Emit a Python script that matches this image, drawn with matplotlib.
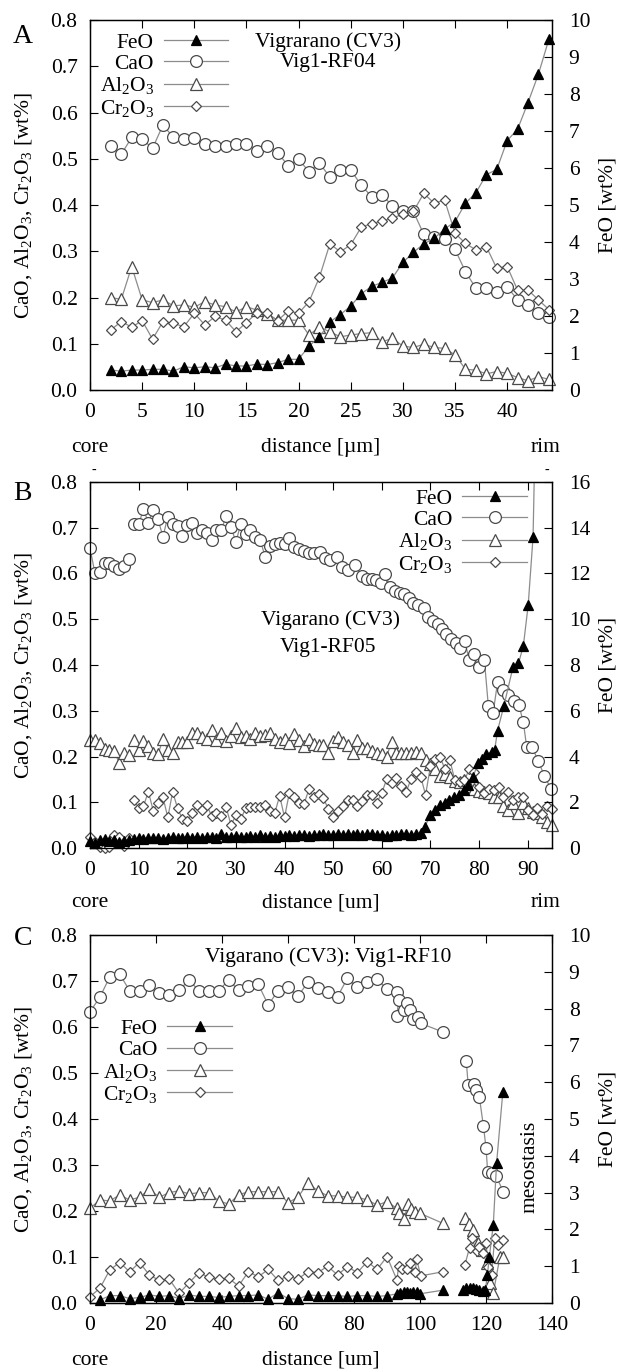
import numpy as np
import matplotlib
matplotlib.use('Agg')
import matplotlib.pyplot as plt
from matplotlib.ticker import MultipleLocator, FormatStrFormatter
from matplotlib.lines import Line2D

plt.rcParams['font.family'] = ['Liberation Serif', 'DejaVu Serif']
plt.rcParams['mathtext.fontset'] = 'custom'
plt.rcParams['mathtext.rm'] = 'Liberation Serif'
plt.rcParams['mathtext.it'] = 'Liberation Serif:italic'
plt.rcParams['font.size'] = 15.5

nan = np.nan

# ---- panel A : Vig1-RF04
dist_a = list(range(2, 45))
feo_a = [0.54, 0.51, 0.54, 0.54, 0.56, 0.56, 0.51, 0.63, 0.60, 0.63, 0.60, 0.70, 0.65, 0.65,
         0.70, 0.69, 0.74, 0.83, 0.83, 1.19, 1.43, 1.84, 2.04, 2.27, 2.60, 2.80, 2.91, 3.03,
         3.45, 3.72, 3.95, 4.10, 4.35, 4.55, 5.05, 5.33, 5.82, 5.96, 6.74, 7.05, 7.77, 8.54, 9.48]
cao_a = [0.528, 0.510, 0.546, 0.542, 0.523, 0.573, 0.546, 0.542, 0.544, 0.533, 0.528, 0.528,
         0.533, 0.533, 0.517, 0.528, 0.513, 0.485, 0.499, 0.472, 0.490, 0.461, 0.476, 0.476,
         0.443, 0.418, 0.422, 0.398, 0.386, 0.386, 0.337, 0.331, 0.326, 0.304, 0.256, 0.220,
         0.220, 0.213, 0.223, 0.195, 0.184, 0.167, 0.158]
al_a = [0.200, 0.196, 0.267, 0.195, 0.189, 0.195, 0.182, 0.184, 0.179, 0.191, 0.184, 0.180,
        0.169, 0.180, 0.173, 0.164, 0.151, 0.151, 0.151, 0.119, 0.136, 0.126, 0.115, 0.119,
        0.122, 0.124, 0.104, 0.112, 0.095, 0.092, 0.099, 0.092, 0.090, 0.076, 0.045, 0.043,
        0.035, 0.040, 0.036, 0.027, 0.020, 0.029, 0.023]
cr_a = [0.130, 0.148, 0.136, 0.150, 0.110, 0.148, 0.144, 0.137, 0.166, 0.141, 0.159, 0.151,
        0.126, 0.146, 0.167, 0.166, 0.150, 0.171, 0.166, 0.191, 0.244, 0.316, 0.299, 0.314,
        0.352, 0.360, 0.365, 0.372, 0.380, 0.386, 0.425, 0.404, 0.411, 0.339, 0.317, 0.303,
        0.310, 0.263, 0.267, 0.216, 0.216, 0.195, 0.174]

# ---- panel B : Vig1-RF05 (nan = break in the profile)
cao_b_x = list(range(0, 9)) + [nan] + list(range(9, 47)) + [
    47.3, 48.3, 49.4, 50.7, 51.9, 53.1, 54.5, 55.9, 56.9, 57.9, 58.9, 59.8, 60.7, 61.7, 62.7,
    63.8, 64.6, 65.6, 66.5, 67.5, 68.6, 69.6, 70.6, 71.6, 72.3, 73.3, 74.2, 75.2, 76.1, 77.1,
    77.9, 79.0, 79.9, 81.1, 81.9, 82.9, 83.8, 85.0, 86.0, 87.2, 88.2, 89.1, 89.8, 90.9, 92.2,
    93.4, 94.8]
cao_b = [0.655, 0.602, 0.604, 0.622, 0.624, 0.616, 0.609, 0.616, 0.631, nan,
         0.708, 0.708, 0.740, 0.711, 0.739, 0.718, 0.680, 0.724, 0.709, 0.704,
         0.682, 0.706, 0.711, 0.689, 0.696, 0.689, 0.673, 0.695, 0.695, 0.726,
         0.701, 0.669, 0.708, 0.686, 0.696, 0.679, 0.673, 0.637, 0.660, 0.664,
         0.667, 0.664, 0.677, 0.657, 0.653, 0.650, 0.645, 0.645,
         0.647, 0.634, 0.630, 0.635, 0.615, 0.608, 0.619, 0.595, 0.589, 0.589,
         0.586, 0.580, 0.599, 0.571, 0.562, 0.558, 0.555, 0.546, 0.536, 0.531,
         0.524, 0.505, 0.496, 0.490, 0.478, 0.468, 0.456, 0.447, 0.437, 0.453,
         0.412, 0.425, 0.396, 0.410, 0.311, 0.296, 0.362, 0.346, 0.335, 0.322,
         0.312, 0.275, 0.220, 0.220, 0.190, 0.158, 0.129]
feo_b_x = list(range(0, 9)) + [nan] + list(range(9, 69)) + [
    68.9, 69.9, 70.9, 71.9, 72.9, 73.9, 74.9, 75.9, 76.9, 77.8, 78.7, 79.8, 80.6, 81.5, 82.6,
    83.2, 83.8, 85.1, 87.0, 88.1, 89.1, 90.1, 91.1, 92.0]
feo_b = [0.30, 0.20, 0.35, 0.40, 0.30, 0.35, 0.25, 0.30, 0.35, nan,
         0.40, 0.42, 0.40, 0.45, 0.42, 0.45, 0.40, 0.45, 0.48, 0.42,
         0.45, 0.50, 0.45, 0.48, 0.45, 0.50, 0.48, 0.45, 0.62, 0.50,
         0.48, 0.52, 0.50, 0.48, 0.52, 0.50, 0.55, 0.50, 0.52, 0.50,
         0.55, 0.52, 0.55, 0.52, 0.58, 0.55, 0.52, 0.58, 0.55, 0.60,
         0.55, 0.58, 0.60, 0.55, 0.60, 0.58, 0.62, 0.58, 0.60, 0.62,
         0.58, 0.55, 0.52, 0.55, 0.58, 0.60, 0.62, 0.58, 0.62, 0.65,
         0.93, 1.44, 1.66, 1.88, 1.98, 2.10, 2.22, 2.32, 2.54, 2.75, 3.09, 3.70,
         3.88, 4.11, 4.21, 4.28, 5.13, 6.21, 7.93, 8.07, 8.83, 10.62, 13.6, 23.0]
oxide_b_x = list(range(0, 9)) + [nan] + list(range(9, 96))
al_b = [0.236, 0.236, 0.229, 0.216, 0.214, 0.211, 0.186, 0.207, 0.203, nan,
        0.236, 0.214, 0.234, 0.223, 0.208, 0.205, 0.238, 0.214, 0.208, 0.232,
        0.232, 0.232, 0.252, 0.252, 0.242, 0.238, 0.258, 0.236, 0.252, 0.234,
        0.245, 0.262, 0.242, 0.245, 0.238, 0.252, 0.245, 0.247, 0.252, 0.238,
        0.232, 0.238, 0.230, 0.249, 0.236, 0.222, 0.238, 0.227, 0.225, 0.225,
        0.208, 0.234, 0.243, 0.232, 0.225, 0.208, 0.236, 0.218, 0.218, 0.213,
        0.208, 0.205, 0.200, 0.232, 0.208, 0.208, 0.208, 0.208, 0.210, 0.207,
        0.192, 0.184, 0.172, 0.157, 0.162, 0.155, 0.147, 0.145, 0.149, 0.136,
        0.128, 0.125, 0.123, 0.120, 0.112, 0.111, 0.092, 0.083, 0.099, 0.077,
        0.098, 0.087, 0.079, 0.077, 0.067, 0.057, 0.050]
cr_b = [0.025, 0.014, 0.003, 0.000, 0.003, 0.028, 0.025, 0.004, 0.021, nan,
        0.106, 0.087, 0.092, 0.123, 0.082, 0.099, 0.111, 0.067, 0.123, 0.087,
        0.063, 0.060, 0.077, 0.094, 0.083, 0.094, 0.070, 0.076, 0.070, 0.089,
        0.050, 0.072, 0.063, 0.087, 0.089, 0.090, 0.090, 0.094, 0.082, 0.077,
        0.114, 0.067, 0.121, 0.111, 0.099, 0.096, 0.128, 0.111, 0.118, 0.109,
        0.085, 0.067, 0.082, 0.092, 0.106, 0.106, 0.092, 0.103, 0.116, 0.116,
        0.099, 0.121, 0.150, 0.143, 0.152, 0.136, 0.123, 0.150, 0.167, 0.156,
        0.116, 0.179, 0.194, 0.198, 0.172, 0.192, 0.149, 0.145, 0.149, 0.172,
        0.167, 0.133, 0.120, 0.128, 0.127, 0.133, 0.112, 0.123, 0.106, 0.111,
        0.111, 0.083, 0.072, 0.087, 0.074, 0.092, 0.085]

# ---- panel C : Vig1-RF10
cao_c_x = list(range(0, 91, 3)) + [93, 93.5, 93, 95, 96, 97, 98, 99.5, 100.2, 107, nan,
                                   114, 114.6, 116.3, 117, 118, 119.2, 120, 120.5, 121.8, 123.1, 125.2]
cao_c = [0.633, 0.665, 0.709, 0.715, 0.679, 0.679, 0.691, 0.675, 0.670, 0.680,
         0.702, 0.679, 0.679, 0.679, 0.702, 0.680, 0.689, 0.693, 0.648, 0.679,
         0.686, 0.667, 0.697, 0.685, 0.677, 0.666, 0.706, 0.686, 0.698, 0.704, 0.682,
         0.677, 0.659, 0.624, 0.637, 0.652, 0.637, 0.617, 0.622, 0.608, 0.589, nan,
         0.527, 0.474, 0.476, 0.462, 0.447, 0.385, 0.338, 0.285, 0.283, 0.276, 0.242]
feo_c_x = list(range(3, 91, 3)) + [93, 94, 95, 96, 97, 98, 99, 100, 107, nan,
                                   113, 114, 115, 116, 117, 118, 119, 119.8, 120.4, 121, 122.2, 123.2, 125.1]
feo_c = [0.08, 0.20, 0.20, 0.12, 0.15, 0.22, 0.18, 0.20, 0.12, 0.22,
         0.18, 0.18, 0.15, 0.18, 0.20, 0.20, 0.22, 0.10, 0.28, 0.12,
         0.10, 0.22, 0.20, 0.20, 0.20, 0.18, 0.20, 0.20, 0.18, 0.20,
         0.25, 0.28, 0.30, 0.30, 0.28, 0.30, 0.30, 0.25, 0.35, nan,
         0.35, 0.40, 0.42, 0.40, 0.38, 0.35, 0.32, 0.35, 0.75, 1.25, 2.12, 3.80, 5.74]
al_c_x = list(range(0, 91, 3)) + [93, 93.5, 95, 96.5, 97.2, 98.5, 100, 107, nan,
                                  113.6, 114.9, 116.2, 117.6, 118.9, 120.2, 121.2, 122.2, 124.2, 125]
al_c = [0.206, 0.224, 0.222, 0.235, 0.224, 0.230, 0.247, 0.230, 0.240, 0.244,
        0.237, 0.240, 0.240, 0.222, 0.215, 0.235, 0.242, 0.242, 0.242, 0.242,
        0.218, 0.230, 0.261, 0.244, 0.233, 0.233, 0.230, 0.230, 0.224, 0.213, 0.220,
        0.206, 0.196, 0.182, 0.215, 0.204, 0.198, 0.195, 0.173, nan,
        0.184, 0.172, 0.159, 0.130, 0.115, 0.086, 0.043, 0.021, 0.100, 0.100]
cr_c_x = list(range(0, 91, 3)) + [93, 93.5, 94.6, 96, 97, 98.5, 99, 100.2, 107, nan,
                                  113.6, 115, 115.7, 117.2, 117.9, 119.2, 120, 120.7, 121.7, 122.6, 123.6, 125]
cr_c = [0.014, 0.032, 0.072, 0.088, 0.068, 0.088, 0.061, 0.049, 0.052, 0.021,
        0.044, 0.066, 0.056, 0.052, 0.054, 0.037, 0.068, 0.057, 0.073, 0.049,
        0.059, 0.052, 0.068, 0.066, 0.080, 0.061, 0.079, 0.066, 0.090, 0.073, 0.101,
        0.050, 0.080, 0.073, 0.075, 0.086, 0.068, 0.095, 0.059, 0.068, nan,
        0.083, 0.120, 0.141, 0.112, 0.122, 0.108, 0.130, 0.079, 0.061, 0.141, 0.126, 0.138]

LINE = '#8c8c8c'
EDGE = '#4a4a4a'
STYLE = {
    'FeO': dict(marker='^', ms=7.5, mfc='black', mec='black'),
    'CaO': dict(marker='o', ms=8.5, mfc='white', mec=EDGE),
    'Al': dict(marker='^', ms=8.0, mfc='white', mec=EDGE),
    'Cr': dict(marker='D', ms=5.6, mfc='white', mec=EDGE),
}
LABELS = ['FeO', 'CaO', 'Al$_2$O$_3$', 'Cr$_2$O$_3$']


def series(ax, x, y, key, ymax):
    x = np.asarray(x, float)
    y = np.asarray(y, float)
    ax.plot(x, y, '-', color=LINE, lw=0.9, zorder=2)
    # markers drawn unclipped like gnuplot, except values beyond the axis
    shown = np.where(y <= ymax, y, nan)
    ax.plot(x, shown, ls='none', mew=0.9, clip_on=False, zorder=3, **STYLE[key])


def make_panel(rect, xmax, xstep, fmax, fstep, xlabel, lab_y):
    ax = fig.add_axes(rect)
    ax2 = ax.twinx()
    ax.set_xlim(0, xmax)
    ax.set_ylim(0, 0.8)
    ax2.set_ylim(0, fmax)
    ax.xaxis.set_major_locator(MultipleLocator(xstep))
    ax.yaxis.set_major_locator(MultipleLocator(0.1))
    ax.yaxis.set_major_formatter(FormatStrFormatter('%.1f'))
    ax2.yaxis.set_major_locator(MultipleLocator(fstep))
    ax.tick_params(axis='both', direction='in', length=6, width=0.8, top=True, right=False)
    ax.tick_params(axis='y', pad=9)
    ax.tick_params(axis='x', pad=9)
    ax2.tick_params(axis='y', direction='in', length=6, width=0.8, pad=12)
    for a in (ax, ax2):
        for s in a.spines.values():
            s.set_linewidth(0.9)
    ax.set_ylabel('CaO, Al$_2$O$_3$, Cr$_2$O$_3$ [wt%]')
    ax.yaxis.label.set_va('center')
    ax.yaxis.set_label_coords(-0.145, 0.5)
    ax2.set_ylabel('FeO [wt%]')
    ax2.yaxis.label.set_va('center')
    ax2.yaxis.set_label_coords(1.121, 0.5)
    ax.set_xlabel(xlabel)
    ax.xaxis.label.set_va('center')
    ax.xaxis.set_label_coords(0.5, lab_y)
    ax.text(0.0, lab_y, 'core', transform=ax.transAxes, ha='center', va='center')
    return ax, ax2


def legend(ax2, anchor):
    handles = [Line2D([], [], color=LINE, lw=0.9, mew=0.9, **STYLE[k])
               for k in ('FeO', 'CaO', 'Al', 'Cr')]
    ax2.legend(handles, LABELS, loc='upper right', bbox_to_anchor=anchor,
               markerfirst=False, frameon=False, handlelength=3.0, handletextpad=0.45,
               labelspacing=0.06, borderpad=0, borderaxespad=0, fontsize=15.5)


fig = plt.figure(figsize=(6.19, 13.70), dpi=100)

# A
ax, ax2 = make_panel([0.1454, 0.7153, 0.7464, 0.2701], 44.3, 5, 10, 1, 'distance [µm]', -0.154)
series(ax, dist_a, cao_a, 'CaO', 0.8)
series(ax, dist_a, al_a, 'Al', 0.8)
series(ax, dist_a, cr_a, 'Cr', 0.8)
series(ax2, dist_a, feo_a, 'FeO', 10)
ax.text(0.985, -0.154, 'rim', transform=ax.transAxes, ha='center', va='center')
ax.text(0.515, 0.94, 'Vigrarano (CV3)', transform=ax.transAxes, ha='center', va='center')
ax.text(0.515, 0.884, 'Vig1-RF04', transform=ax.transAxes, ha='center', va='center')
legend(ax2, (0.299, 0.966))

# B
ax, ax2 = make_panel([0.1454, 0.3810, 0.7464, 0.2672], 95, 10, 16, 2, 'distance [um]', -0.150)
series(ax, cao_b_x, cao_b, 'CaO', 0.8)
series(ax, oxide_b_x, al_b, 'Al', 0.8)
series(ax, oxide_b_x, cr_b, 'Cr', 0.8)
series(ax2, feo_b_x, feo_b, 'FeO', 16)
ax.text(0.985, -0.150, 'rim', transform=ax.transAxes, ha='center', va='center')
ax.text(0.52, 0.623, 'Vigarano (CV3)', transform=ax.transAxes, ha='center', va='center')
ax.text(0.515, 0.549, 'Vig1-RF05', transform=ax.transAxes, ha='center', va='center')
legend(ax2, (0.946, 0.982))

# C
ax, ax2 = make_panel([0.1454, 0.0489, 0.7464, 0.2686], 140, 20, 10, 1, 'distance [um]', -0.155)
series(ax, cao_c_x, cao_c, 'CaO', 0.8)
series(ax, al_c_x, al_c, 'Al', 0.8)
series(ax, cr_c_x, cr_c, 'Cr', 0.8)
series(ax2, feo_c_x, feo_c, 'FeO', 10)
ax.text(0.515, 0.94, 'Vigarano (CV3): Vig1-RF10', transform=ax.transAxes, ha='center', va='center')
ax.text(0.952, 0.37, 'mesostasis', transform=ax.transAxes, ha='center', va='center', rotation=90)
legend(ax2, (0.307, 0.772))

fig.text(0.037, 0.973, 'A', fontsize=20, ha='center', va='center')
fig.text(0.037, 0.640, 'B', fontsize=20, ha='center', va='center')
fig.text(0.037, 0.3153, 'C', fontsize=20, ha='center', va='center')
fig.text(94 / 619, 1 - 470 / 1370, '-', fontsize=10, ha='center', va='center')
fig.text(547 / 619, 1 - 470 / 1370, '-', fontsize=10, ha='center', va='center')

fig.savefig('out.png', dpi=100)
